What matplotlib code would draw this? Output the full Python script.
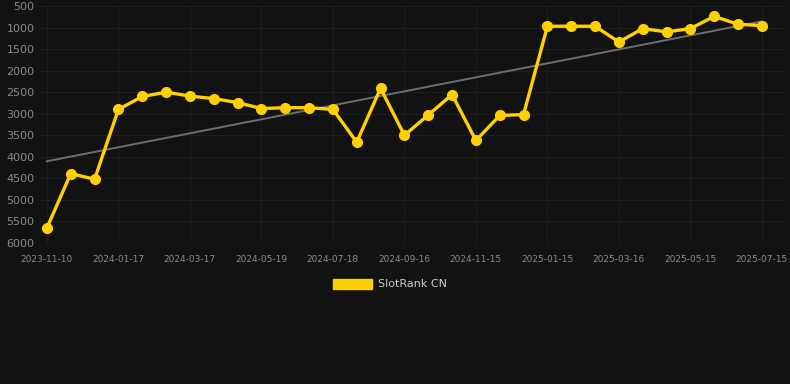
import matplotlib
matplotlib.use('Agg')
import matplotlib.pyplot as plt
import numpy as np

# rank values, one point per sample, tick label every 3rd sample
rank = [5650, 4390, 4520, 2900, 2600, 2500, 2590, 2650, 2740, 2880,
        2860, 2860, 2900, 3660, 2410, 3500, 3030, 2555, 3620, 3040,
        3020, 970, 970, 970, 1335, 1025, 1100, 1025, 740, 925, 955]
tick_labels = ['2023-11-10', '2024-01-17', '2024-03-17', '2024-05-19', '2024-07-18',
               '2024-09-16', '2024-11-15', '2025-01-15', '2025-03-16', '2025-05-15',
               '2025-07-15']
y_ticks = [500, 1000, 1500, 2000, 2500, 3000, 3500, 4000, 4500, 5000, 5500, 6000]

bg = '#121212'
gold = '#FFD100'

fig = plt.figure(figsize=(7.9, 3.84), dpi=100, facecolor=bg)
ax = fig.add_axes([40/790, 1-243/384, 745/790, 237/384])
ax.set_facecolor(bg)

x = np.arange(len(rank))
coef = np.polyfit(x, rank, 1)
ax.plot(x, np.polyval(coef, x), color='#6e6e6e', lw=1.4, zorder=2)
ax.plot(x, rank, color=gold, lw=2.4, marker='o', ms=7, zorder=3, label='SlotRank CN')

ax.set_xlim(-0.29, 30.97)
ax.set_ylim(6000, 500)
ax.set_yticks(y_ticks)
ax.set_xticks(np.arange(0, len(rank), 3))
ax.set_xticklabels(tick_labels)
ax.tick_params(axis='y', colors='#8a8a8a', labelsize=8, length=0, pad=4)
ax.tick_params(axis='x', colors='#8a8a8a', labelsize=6.5, length=0, pad=9)
ax.grid(True, color='#1e1e1e', lw=0.8)
for s in ax.spines.values():
    s.set_visible(False)
ax.axhline(6000, color='#262626', lw=0.8)

leg = fig.legend(handles=[plt.Rectangle((0, 0), 1, 1, color=gold)], labels=['SlotRank CN'],
                 loc='center', bbox_to_anchor=(390/790, 1-284/384), frameon=False,
                 fontsize=8, handlelength=3.5, handleheight=1.0, handletextpad=0.5)
for t in leg.get_texts():
    t.set_color('#cccccc')

fig.savefig('out.png', dpi=100, facecolor=bg)
